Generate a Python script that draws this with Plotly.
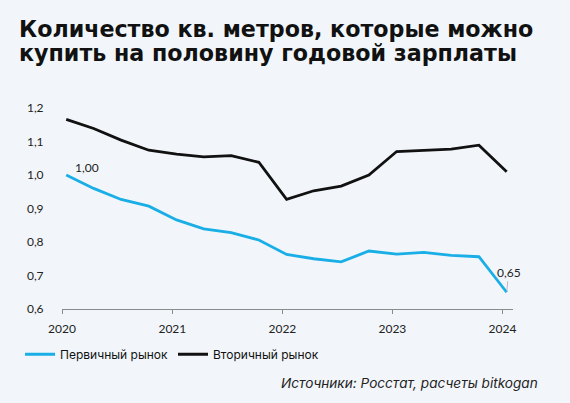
import plotly.graph_objects as go

dates = ["2020-01-15", "2020-04-15", "2020-07-15", "2020-10-15",
         "2021-01-15", "2021-04-15", "2021-07-15", "2021-10-15",
         "2022-01-15", "2022-04-15", "2022-07-15", "2022-10-15",
         "2023-01-15", "2023-04-15", "2023-07-15", "2023-10-15",
         "2024-01-15"]
primary = [1.00, 0.960, 0.927, 0.907, 0.866, 0.839, 0.828, 0.806,
           0.763, 0.750, 0.741, 0.773, 0.764, 0.769, 0.760, 0.756, 0.65]
secondary = [1.166, 1.139, 1.104, 1.074, 1.062, 1.054, 1.058, 1.038,
             0.927, 0.953, 0.967, 1.000, 1.070, 1.073, 1.077, 1.089, 1.010]

name_primary = "Первичный рынок"
name_secondary = "Вторичный рынок"
title_lines = ["Количество кв. метров, которые можно",
               "купить на половину годовой зарплаты"]
source_text = "Источники: Росстат, расчеты bitkogan"

BG = "#f2f6fa"
BLUE = "#1aaee6"

fig = go.Figure()
fig.add_trace(go.Scatter(x=dates, y=primary, mode="lines", name=name_primary,
                         line=dict(color=BLUE, width=2.8)))
fig.add_trace(go.Scatter(x=dates, y=secondary, mode="lines", name=name_secondary,
                         line=dict(color="#111111", width=2.8)))

fig.add_annotation(x=dates[0], y=primary[0], text="1,00", showarrow=False,
                   xanchor="left", yanchor="middle", xshift=7, yshift=8,
                   font=dict(family="Lato", size=12, color="#222"))
fig.add_annotation(x=dates[-1], y=primary[-1], text="0,65", showarrow=True,
                   ax=2, ay=-20, arrowhead=0, arrowwidth=0.8, arrowcolor="#aaaaaa",
                   standoff=1, font=dict(family="Lato", size=12, color="#222"))

for i, line in enumerate(title_lines):
    fig.add_annotation(xref="paper", yref="paper", x=0, y=1, xanchor="left", yanchor="middle",
                       text=f"<b>{line}</b>", showarrow=False, align="left",
                       xshift=-45, yshift=79 - 24 * i,
                       font=dict(family="DejaVu Sans", size=22.2, color="#111111"))
fig.add_annotation(xref="paper", yref="paper", x=1, y=0, xanchor="right", yanchor="middle",
                   text=f"<i>{source_text}</i>", showarrow=False,
                   xshift=27, yshift=-74,
                   font=dict(family="Inter", size=13.6, color="#222222"))

fig.update_layout(
    width=570, height=403,
    margin=dict(l=62, r=57, t=108, b=94),
    paper_bgcolor=BG, plot_bgcolor=BG,
    separators=",.",
    showlegend=True,
    legend=dict(orientation="h", x=-0.093, y=-0.225, xanchor="left", yanchor="middle",
                font=dict(family="Inter", size=12, color="#111"),
                bgcolor="rgba(0,0,0,0)", tracegroupgap=0),
    xaxis=dict(type="date", range=["2020-01-01", "2024-02-05"],
               dtick="M12", tick0="2020-01-01", tickformat="%Y",
               showgrid=False, zeroline=False,
               showline=True, linecolor="#8a8a8a", linewidth=1,
               ticks="outside", ticklen=4, tickcolor="#8a8a8a",
               ticklabelstandoff=5,
               tickfont=dict(family="Lato", size=12, color="#222")),
    yaxis=dict(range=[0.6, 1.2], dtick=0.1, tickformat=".1f",
               showgrid=False, zeroline=False, showline=False,
               ticks="outside", ticklen=15, tickcolor="rgba(0,0,0,0)",
               tickfont=dict(family="Lato", size=12, color="#222")),
)

fig.write_html("out.html", config={"displayModeBar": False},
               post_script="document.body.style.margin='0';document.body.style.background='#f2f6fa';")
